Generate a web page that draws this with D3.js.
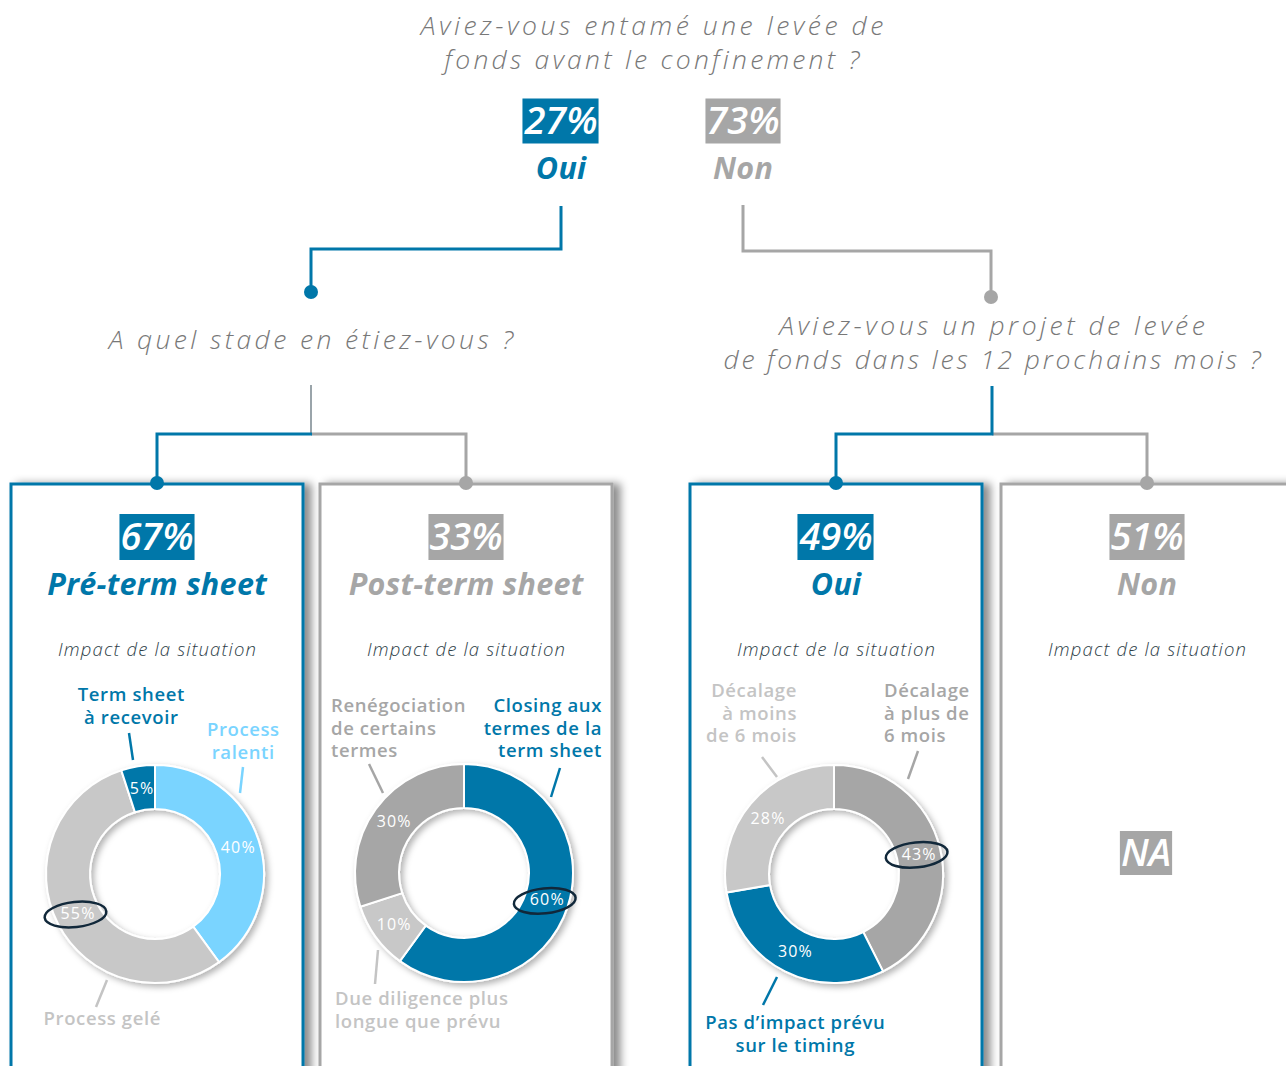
<!DOCTYPE html>
<html><head><meta charset="utf-8">
<script src="https://cdn.jsdelivr.net/npm/d3@7"></script>
<style>
body{margin:0;background:#fff;}
svg{display:block;font-family:"Open Sans",sans-serif;}
</style>
</head><body>
<svg id="c" width="1286" height="1066"></svg>
<script>
// ---------------- DATA ----------------
const titleLines = ["Aviez-vous entamé une levée de", "fonds avant le confinement ?"];
const rootCategories = ["Oui", "Non"];
const rootValues = [27, 73];
const stageQuestion = ["A quel stade en étiez-vous ?"];
const stageCategories = ["Pré-term sheet", "Post-term sheet"];
const stageValues = [67, 33];
const projectQuestion = ["Aviez-vous un projet de levée", "de fonds dans les 12 prochains mois ?"];
const projectCategories = ["Oui", "Non"];
const projectValues = [49, 51];
const impactTitle = "Impact de la situation";
const preTermCategories = ["Process\nralenti", "Process gelé", "Term sheet\nà recevoir"];
const preTermValues = [40, 55, 5];
const postTermCategories = ["Closing aux\ntermes de la\nterm sheet", "Due diligence plus\nlongue que prévu", "Renégociation\nde certains\ntermes"];
const postTermValues = [60, 10, 30];
const projectYesCategories = ["Décalage\nà plus de\n6 mois", "Pas d’impact prévu\nsur le timing", "Décalage\nà moins\nde 6 mois"];
const projectYesValues = [43, 30, 28];
const projectNoText = "NA";

// ---------------- STYLE ----------------
const C = {blue:"#0077a9", light:"#7ad4ff", gray:"#a6a6a6", lgray:"#c8c8c8",
           tgray:"#c4c4c4", title:"#787878", dark:"#2e3e48", ink:"#11283a"};
const pct = d => d + "%";
const svg = d3.select("#c");
const defs = svg.append("defs");
const f1 = defs.append("filter").attr("id","pshadow").attr("x","-10%").attr("y","-10%").attr("width","130%").attr("height","130%");
f1.append("feDropShadow").attr("dx",7).attr("dy",1).attr("stdDeviation",4).attr("flood-color","#000").attr("flood-opacity",0.45);
const f2 = defs.append("filter").attr("id","dshadow").attr("x","-20%").attr("y","-20%").attr("width","140%").attr("height","140%");
f2.append("feDropShadow").attr("dx",3).attr("dy",3).attr("stdDeviation",3).attr("flood-color","#000").attr("flood-opacity",0.3);

const TS = {
  title:   {size:26.5, weight:300, italic:true},
  badge:   {size:38, weight:600, italic:true},
  answer:  {size:30.5, weight:700, italic:true},
  impact:  {size:18.5, weight:300, italic:true},
  label:   {size:18.5, weight:600, italic:false},
  value:   {size:16, weight:500, italic:false}
};
function measure(cls, str){
  const s = TS[cls];
  const t = svg.append("text").attr("font-size",s.size).attr("font-weight",s.weight)
     .attr("font-style", s.italic?"italic":"normal").text(str);
  const w = t.node().getComputedTextLength(); t.remove();
  return w;
}
function fitSpacing(cls, sample, target){ TS[cls].ls = (target - measure(cls, sample)) / sample.length; }
fitSpacing("title", "Aviez-vous entamé une levée de", 466);
fitSpacing("badge", "27%", 73);
fitSpacing("answer", "Post-term sheet", 235);
fitSpacing("impact", "Impact de la situation", 199);
fitSpacing("label", "Renégociation", 135);
fitSpacing("value", "40%", 35);

function txt(g, cls, x, y, str, color, anchor, width){
  const s = TS[cls];
  const ls = width ? (width - measure(cls, str)) / str.length : s.ls;
  return g.append("text").attr("x",x + (anchor && anchor!=="middle" ? 0 : ls/2)).attr("y",y).attr("dy","0.35em")
    .attr("text-anchor", anchor||"middle").attr("font-size",s.size).attr("font-weight",s.weight)
    .attr("font-style", s.italic?"italic":"normal").attr("letter-spacing", ls)
    .attr("fill", color).text(str);
}
function badge(g, x, y, h, str, color){
  const t = txt(g, "badge", x, y, str, "#fff");
  const b = t.node().getBBox();
  g.insert("rect", () => t.node()).attr("x", b.x - 1).attr("width", b.width - TS.badge.ls + 2)
    .attr("y", y - h/2).attr("height", h).attr("fill", color);
}
function line(g, d, color, w){
  g.append("path").attr("d", d).attr("fill","none").attr("stroke",color).attr("stroke-width",w||3);
}
function dot(g, x, y, color){ g.append("circle").attr("cx",x).attr("cy",y).attr("r",7).attr("fill",color); }

// ---------------- TOP ----------------
const topG = svg.append("g");
const titleW = [466, 418];
titleLines.forEach((l,i) => txt(topG, "title", 652, 26 + i*34, l, C.title, "middle", titleW[i]));
const rootX = d3.scaleOrdinal().domain(rootCategories).range([561, 743]);
const rootCol = d3.scaleOrdinal().domain(rootCategories).range([C.blue, C.gray]);
rootCategories.forEach((c,i) => {
  badge(topG, rootX(c), 121, 45, pct(rootValues[i]), rootCol(c));
  txt(topG, "answer", rootX(c), 168, c, rootCol(c));
});

// connectors
const con = svg.append("g");
line(con, "M561,206V249H311V292", C.blue);
dot(con, 311, 292, C.blue);
line(con, "M743,205V251H991V297", C.gray);
dot(con, 991, 297, C.gray);
txt(con, "title", 311, 340, stageQuestion[0], C.title, "middle", 408);
const projW = [429, 540];
projectQuestion.forEach((l,i) => txt(con, "title", 992, 326 + i*33.5, l, C.title, "middle", projW[i]));
line(con, "M311,385V434", "#9aa4aa", 2);
line(con, "M466,483V434H311", C.gray);
line(con, "M157,483V434H312", C.blue);
line(con, "M1147,483V434H992", C.gray);
line(con, "M992,386V434H836V483", C.blue);

// ---------------- PANELS ----------------
const panelX = [157, 466, 836, 1147];
const panelCol = [C.blue, C.gray, C.blue, C.gray];
const panelCats = stageCategories.concat(projectCategories);
const panelVals = stageValues.concat(projectValues);
const panels = svg.append("g");
panelX.forEach((cx,i) => {
  panels.append("rect").attr("x", cx - 146).attr("y", 484).attr("width", 292).attr("height", 620)
    .attr("fill","#fff").attr("stroke", panelCol[i]).attr("stroke-width",3).attr("filter","url(#pshadow)");
});
panelX.forEach((cx,i) => dot(panels, cx, 483, panelCol[i]));
panelX.forEach((cx,i) => {
  badge(panels, cx, 537, 46, pct(panelVals[i]), panelCol[i]);
  txt(panels, "answer", cx, 584, panelCats[i], panelCol[i]);
  txt(panels, "impact", cx, 650, impactTitle, C.dark);
});
badge(panels, 1146, 853, 44, projectNoText, C.gray);

// ---------------- DONUTS ----------------
const pie = d3.pie().sort(null).value(d => d);
const arc = d3.arc().innerRadius(65).outerRadius(109);

function donut(cx, cy, cats, vals, colors, textColors, labels, leaders, hi){
  const g = svg.append("g").attr("transform", `translate(${cx},${cy})`);
  const arcs = pie(vals);
  const rg = g.append("g").attr("filter","url(#dshadow)");
  rg.selectAll("path").data(arcs).join("path").attr("d", arc)
    .attr("fill", (d,i) => colors[i]).attr("stroke","#fff").attr("stroke-width",2);
  arcs.forEach((a,i) => {
    const [x,y] = arc.centroid(a);
    txt(g, "value", x, y, pct(vals[i]), "#fff");
    if (i === hi) {
      g.append("ellipse").attr("cx", x - 2).attr("cy", y + 1).attr("rx", 31).attr("ry", 12.5)
        .attr("transform", `rotate(-6 ${x-2} ${y+1})`)
        .attr("fill","none").attr("stroke", C.ink).attr("stroke-width", 2.5);
    }
    const L = leaders[i];
    g.append("line").attr("x1",L[0]).attr("y1",L[1]).attr("x2",L[2]).attr("y2",L[3])
      .attr("stroke", textColors[i]).attr("stroke-width", 2.5);
    const lb = labels[i];
    cats[i].split("\n").forEach((s,k) => txt(g, "label", lb[0], lb[1] + k*22.5, s, textColors[i], lb[2]));
  });
}

donut(155, 874, preTermCategories, preTermValues,
  [C.light, C.lgray, C.blue], [C.light, C.tgray, C.blue],
  [[88,-144,"middle"], [-53,145,"middle"], [-24,-179,"middle"]],
  [[88,-107,85,-81], [-48,106,-59,133], [-26,-141,-22,-114]], 1);

donut(464, 873, postTermCategories, postTermValues,
  [C.blue, C.lgray, C.gray], [C.blue, C.tgray, C.gray],
  [[138,-167,"end"], [-129,126,"start"], [-133,-167,"start"]],
  [[96,-105,87,-76], [-86,77,-89,111], [-95,-109,-81,-80]], 0);

donut(834, 874, projectYesCategories, projectYesValues,
  [C.gray, C.blue, C.lgray], [C.gray, C.blue, C.tgray],
  [[50,-183,"start"], [-39,149,"middle"], [-37,-183,"end"]],
  [[84,-123,74,-95], [-57,103,-71,131], [-72,-117,-57,-97]], 0);
</script>
</body></html>
